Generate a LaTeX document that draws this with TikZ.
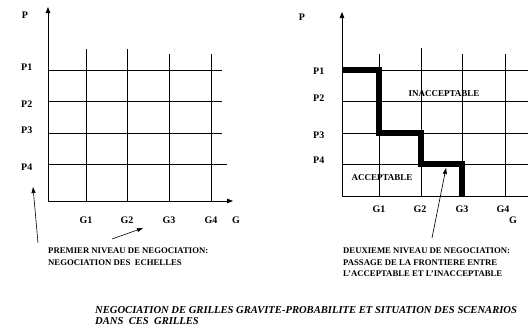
\documentclass[tikz,border=0pt]{standalone}
\usepackage{fontspec}
\setmainfont{Liberation Serif}
\usetikzlibrary{positioning, arrows.meta}

\begin{document}
\begin{tikzpicture}[
    x=1pt, y=-1pt,
    lbl/.style={font=\fontsize{10}{12}\selectfont\bfseries, inner sep=0pt},
    zone/.style={font=\fontsize{9}{11}\selectfont\bfseries, inner sep=0pt},
    note/.style={font=\fontsize{8.7}{11.3}\selectfont\bfseries, align=left, inner sep=0pt, anchor=north west},
    caption/.style={font=\fontsize{10.6}{11}\selectfont\bfseries\itshape, align=left, inner sep=0pt, anchor=north west},
    gridline/.style={line width=0.6pt},
    axis/.style={line width=0.8pt, -{Triangle[length=6pt, width=4.5pt]}},
    pointer/.style={line width=0.6pt, -{Triangle[length=6pt, width=4pt]}},
    border/.style={line width=5.5pt, line join=miter}
]
\useasboundingbox (0,0) rectangle (528,332);

% First grid
\coordinate (o1) at (48,201);
\draw [gridline] (48,70) -- (222,70);
\draw [gridline] (48,101) -- (222,101);
\draw [gridline] (48,133) -- (222,133);
\draw [gridline] (48,164) -- (227,164);
\draw [gridline] (86,49) -- (86,201);
\draw [gridline] (127,49) -- (127,201);
\draw [gridline] (169,54) -- (169,201);
\draw [gridline] (211,54) -- (211,201);
\draw [axis] (o1) -- (48,7);
\draw [axis] (o1) -- (233,201);

\node (p0a) [lbl] at (25,15) {P};
\node (p1a) [lbl, anchor=west] at (21,67) {P1};
\node (p2a) [lbl, anchor=west] at (21,104) {P2};
\node (p3a) [lbl, anchor=west] at (21,130) {P3};
\node (p4a) [lbl, anchor=west] at (21,167) {P4};
\node (g1a) [lbl] at (86,220) {G1};
\node (g2a) [lbl] at (127,220) {G2};
\node (g3a) [lbl] at (169,220) {G3};
\node (g4a) [lbl] at (211,220) {G4};
\node (g0a) [lbl] at (236,220) {G};

% Second grid
\coordinate (o2) at (342,196);
\draw [gridline] (342,70) -- (528,70);
\draw [gridline] (342,101) -- (528,101);
\draw [gridline] (342,133) -- (528,133);
\draw [gridline] (342,164) -- (528,164);
\draw [gridline] (379,54) -- (379,196);
\draw [gridline] (421,48) -- (421,196);
\draw [gridline] (462,54) -- (462,196);
\draw [gridline] (505,54) -- (505,196);
\draw [axis] (o2) -- (342,12);
\draw [gridline, line width=0.8pt] (o2) -- (528,196);

% Frontier
\draw [border] (342,70) -- (379,70) -- (379,133) -- (421,133) -- (421,164)
    -- (462,164) -- (462,196);

\node (p0b) [lbl] at (302,17) {P};
\node (p1b) [lbl, anchor=west] at (313,71) {P1};
\node (p2b) [lbl, anchor=west] at (313,98) {P2};
\node (p3b) [lbl, anchor=west] at (313,135) {P3};
\node (p4b) [lbl, anchor=west] at (313,160) {P4};
\node (g1b) [lbl] at (379,209) {G1};
\node (g2b) [lbl] at (420,209) {G2};
\node (g3b) [lbl] at (462,209) {G3};
\node (g4b) [lbl] at (503,209) {G4};
\node (g0b) [lbl] at (513,220) {G};
\node (inacc) [zone] at (444,94) {INACCEPTABLE};
\node (acc) [zone] at (382,178) {ACCEPTABLE};

% Notes
\node (note1) [note] at (48,248) {PREMIER NIVEAU DE NEGOCIATION:\\NEGOCIATION DES~ ECHELLES};
\node (note2) [note] at (343,248) {DEUXIEME NIVEAU DE NEGOCIATION:\\PASSAGE DE LA FRONTIERE ENTRE\\L'ACCEPTABLE ET L'INACCEPTABLE};
\node (title) [caption] at (95,306) {NEGOCIATION DE GRILLES GRAVITE-PROBABILITE ET SITUATION DES SCENARIOS\\DANS~ CES~ GRILLES};

% Pointers
\coordinate (t1) at (38,243);
\coordinate (h1) at (33,187);
\coordinate (t2) at (112,239);
\coordinate (h2) at (143,228);
\coordinate (t3) at (432,238);
\coordinate (h3) at (446,168);
\draw [pointer] (t1) -- (h1);
\draw [pointer] (t2) -- (h2);
\draw [pointer] (t3) -- (h3);

\end{tikzpicture}
\end{document}
